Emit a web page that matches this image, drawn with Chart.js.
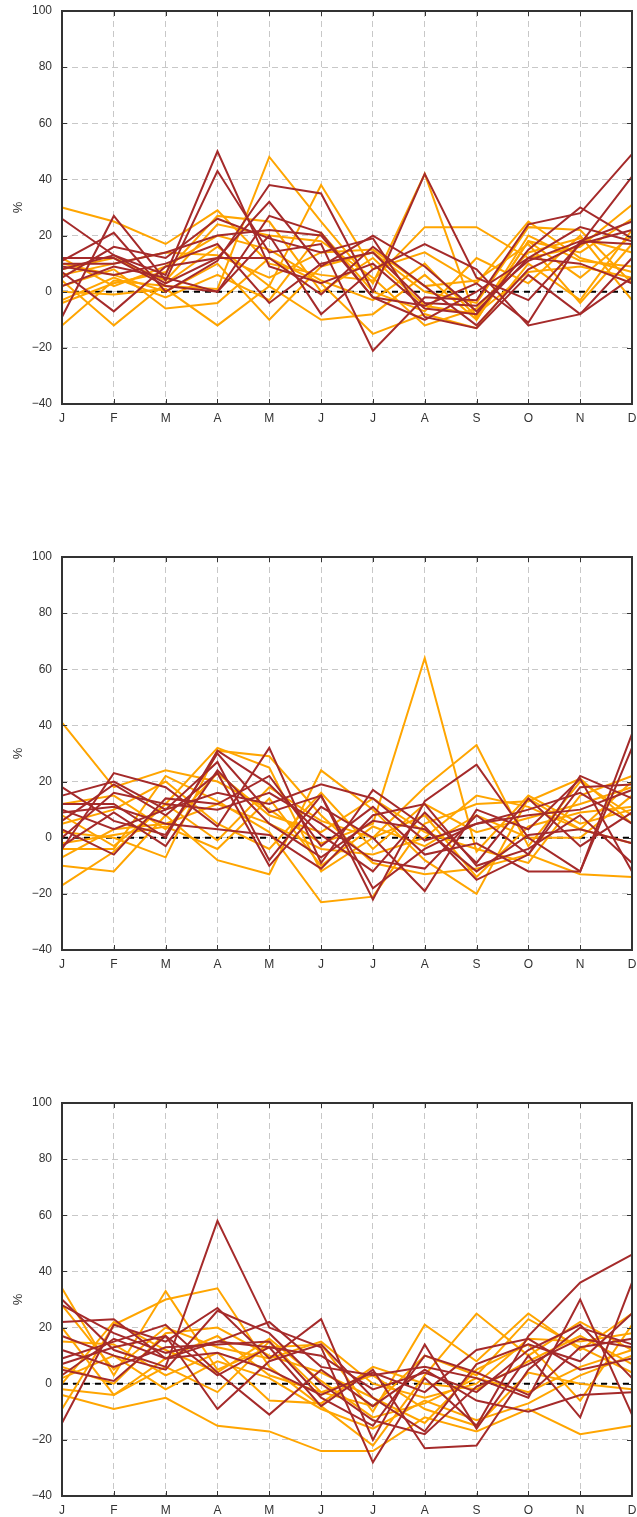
<!DOCTYPE html>
<html>
<head>
<meta charset="utf-8">
<script src="https://cdn.jsdelivr.net/npm/chart.js@4/dist/chart.umd.min.js"></script>
<style>
  html, body { margin: 0; padding: 0; background: #fff; }
  .panel { position: absolute; left: 0; width: 637px; height: 424px; }
  canvas { display: block; }
</style>
</head>
<body>
<div class="panel" style="top:0px"><canvas id="c1" width="637" height="424"></canvas></div>
<div class="panel" style="top:546px"><canvas id="c2" width="637" height="424"></canvas></div>
<div class="panel" style="top:1092px"><canvas id="c3" width="637" height="424"></canvas></div>
<script>
const months = ['J','F','M','A','M','J','J','A','S','O','N','D'];
const yTicks = [-40, -20, 0, 20, 40, 60, 80, 100];
const zeroLine = [0,0,0,0,0,0,0,0,0,0,0,0];

// Panel 1
const p1Orange = [
  [30, 25, 17, 29, 10, 6, 4, 23, 23, 12, 16, 31],
  [-12, 4, 2, 1, 48, 25, 3, 42, -10, 18, 5, 20],
  [4, -12, 3, 16, 2, 38, 8, 14, 3, 25, 12, 7],
  [8, 12, 4, 24, 20, 18, 5, -12, -6, 14, 19, 14],
  [2, 8, -6, -4, 12, 3, -15, -8, -13, 10, -3, 22],
  [10, 6, 0, 10, -10, 9, 14, 0, -4, 23, 22, 3],
  [-4, 3, 7, 27, 25, 0, 12, -5, -8, 7, 9, 5],
  [6, 10, 14, 13, 5, 14, 15, 2, 4, 17, -4, 17],
  [0, -1, 1, -12, 2, -10, -8, 6, -10, 18, 14, 26],
  [12, 2, 9, 20, 15, 4, -3, 10, -9, 20, 11, 9],
  [-3, 5, -2, 6, -3, 21, 0, -7, 12, 3, 20, -3]
];
const p1Red = [
  [26, 13, 6, 50, 9, 3, 10, -6, -8, 15, 30, 19],
  [-9, 27, 4, 43, 14, 17, -21, -2, -3, 24, 28, 49],
  [11, 21, 0, 11, 38, 35, 0, 42, 5, -3, 17, 41],
  [7, -7, 9, 12, 32, 9, 20, 9, -7, 12, 23, 18],
  [10, 10, 14, 20, 22, 20, -2, -5, 3, -11, 18, 25],
  [5, 16, 12, 26, 19, 14, 19, -9, -13, 6, -8, 12],
  [12, 12, 2, 0, 20, -8, 8, 17, 8, -12, -8, 5],
  [9, 6, 10, 17, -4, 10, 14, -4, -5, 11, 18, 17],
  [2, 9, 5, 0, 27, 21, -2, -10, 0, 12, 10, 3],
  [8, 13, 3, 12, 12, -1, 16, 2, -12, 8, 17, 22]
];

// Panel 2
const p2Orange = [
  [41, 18, 24, 20, 10, -2, 5, 64, -5, 15, 5, 10],
  [-17, -5, 12, 32, 25, -12, 0, 18, 33, -3, 20, 8],
  [-10, -12, 8, -8, -13, 24, 10, -8, -20, 14, 3, 20],
  [-4, -4, 22, 13, 2, -23, -21, 5, 12, 13, 21, 5],
  [2, 0, -7, 31, 29, 8, -9, -13, -11, -6, -13, -14],
  [5, 10, 20, 5, -4, 16, -4, 12, 2, 7, 12, 18],
  [-2, 1, 4, -4, 14, -10, 4, -3, 8, 0, 0, 15],
  [12, 15, 3, 23, 8, 2, 14, 2, -4, -9, 15, 22],
  [-7, 3, 5, 12, 5, -4, -6, 0, 15, 11, 3, -2],
  [8, -3, 12, -1, 18, 6, 0, 8, -14, 4, 9, 11]
];
const p2Red = [
  [18, 6, 1, 30, 9, 15, -22, 13, 26, 0, -12, 37],
  [-4, 23, 18, 4, 32, -9, 17, 4, -15, -6, 22, 14],
  [6, 19, 8, 23, -10, 11, 0, -19, 10, 3, 21, -12],
  [12, 12, 0, 31, 19, 1, -12, 9, -9, 14, -3, 9],
  [3, -6, 14, 12, 22, -3, 11, -6, -2, -12, -12, 32],
  [15, 20, 10, 27, -8, 15, -18, -4, 5, 8, 10, 17],
  [9, 11, 5, 3, 1, -11, 8, 12, -10, -4, 8, -9],
  [0, 16, 12, 10, 16, 5, -8, -11, 8, -6, 18, 19],
  [-3, 9, -3, 24, 5, -7, 6, 3, -12, 1, 3, -2],
  [10, 3, 10, 16, 12, 19, 14, -1, 5, 10, 16, 5]
];

// Panel 3
const p3Orange = [
  [34, 3, 33, 5, 13, 14, -10, 21, 8, 25, 12, 25],
  [-9, 21, 30, 34, 6, -8, -22, 3, 25, 10, 22, 12],
  [-4, -9, -5, -15, -17, -24, -24, -12, -17, -9, -18, -15],
  [28, 5, 20, 13, 9, 15, 0, -5, 0, 16, 15, 18],
  [2, 10, -2, 8, 2, -9, -16, -6, -13, -7, 3, 10],
  [-2, -4, 6, -3, 15, -3, -8, 10, 3, 23, 13, 4],
  [6, 0, 18, 20, 10, 4, -5, -14, 5, 14, -6, 21],
  [15, 14, 3, 11, -6, -7, 6, 0, -2, 8, 17, 7],
  [0, 22, 12, 4, 16, 1, -12, -7, 2, -3, 6, 12],
  [20, -4, 9, 17, 3, -3, 3, -9, -15, 4, 0, -2]
];
const p3Red = [
  [30, 12, 6, 58, 20, 13, -28, 2, -15, 17, 36, 46],
  [-14, 21, 15, 27, 9, 23, -20, 14, -16, 10, -12, 36],
  [28, 18, 11, 15, 13, -8, 5, -23, -22, 5, 20, 14],
  [22, 23, 9, 15, 22, 6, 3, 6, 2, -5, 30, -11],
  [5, 1, 17, -9, 8, 14, -5, -17, 7, 14, 8, 25],
  [17, 10, 5, 26, 18, 0, -13, -18, -1, 7, 16, 13],
  [9, 15, 21, 4, -11, 5, -8, 5, -6, -10, -4, -3],
  [12, 6, 13, 14, 15, -5, -15, 10, 4, -4, 13, 16],
  [3, 16, 9, 11, 5, -4, 4, -3, 12, 16, 5, 9],
  [7, 13, 17, 3, 13, 10, -2, 4, -3, 12, 21, 2]
];

const ORANGE = '#ffa500';
const RED = '#a52a2a';
const FONT = "'Liberation Sans', Arial, sans-serif";

const framePlugin = {
  id: 'frame',
  afterDraw(chart) {
    const {ctx, chartArea: a, scales} = chart;
    ctx.save();
    ctx.strokeStyle = '#333';
    ctx.lineWidth = 1;
    const tl = 5;
    ctx.beginPath();
    scales.y.ticks.forEach((t, i) => {
      const y = Math.round(scales.y.getPixelForTick(i)) + 0.5;
      ctx.moveTo(a.left, y); ctx.lineTo(a.left + tl, y);
      ctx.moveTo(a.right, y); ctx.lineTo(a.right - tl, y);
    });
    scales.x.ticks.forEach((t, i) => {
      const x = Math.round(scales.x.getPixelForTick(i)) + 0.5;
      ctx.moveTo(x, a.bottom); ctx.lineTo(x, a.bottom - tl);
      ctx.moveTo(x, a.top); ctx.lineTo(x, a.top + tl);
    });
    ctx.stroke();
    ctx.lineWidth = 2;
    ctx.strokeRect(a.left, a.top, a.right - a.left, a.bottom - a.top);
    ctx.restore();
  }
};

function makeChart(id, orange, red) {
  const datasets = [];
  red.forEach((d, i) => datasets.push({
    data: d, borderColor: RED, borderWidth: 2, pointRadius: 0, tension: 0, fill: false, order: 0
  }));
  orange.forEach((d, i) => datasets.push({
    data: d, borderColor: ORANGE, borderWidth: 2, pointRadius: 0, tension: 0, fill: false, order: 1
  }));
  datasets.push({
    data: zeroLine, borderColor: '#000', borderWidth: 2, borderDash: [6, 5],
    pointRadius: 0, tension: 0, fill: false, order: 2
  });
  return new Chart(document.getElementById(id), {
    type: 'line',
    data: { labels: months, datasets },
    options: {
      responsive: false,
      animation: false,
      events: [],
      layout: { padding: { top: 11, right: 5, left: 0, bottom: 0 } },
      plugins: { legend: { display: false }, tooltip: { enabled: false } },
      scales: {
        x: {
          grid: { color: '#c8c8c8', lineWidth: 1, drawTicks: false },
          border: { display: false, dash: [6, 4] },
          ticks: { color: '#333', font: { family: FONT, size: 12 }, padding: 7, maxRotation: 0, autoSkip: false },
          afterFit(s) { s.height = 20; s.paddingLeft = 0; s.paddingRight = 0; }
        },
        y: {
          min: -40, max: 100,
          afterBuildTicks(s) { s.ticks = yTicks.map(v => ({ value: v })); },
          grid: { color: '#c8c8c8', lineWidth: 1, drawTicks: false },
          border: { display: false, dash: [6, 4] },
          ticks: {
            color: '#333', font: { family: FONT, size: 12 }, padding: 10,
            callback: v => String(v).replace('-', '\u2212')
          },
          title: { display: true, text: '%', color: '#333', font: { family: FONT, size: 13 }, padding: { top: 11, bottom: 0 } },
          afterFit(s) { s.width = 62; s.paddingTop = 0; s.paddingBottom = 0; }
        }
      }
    },
    plugins: [framePlugin]
  });
}

makeChart('c1', p1Orange, p1Red);
makeChart('c2', p2Orange, p2Red);
makeChart('c3', p3Orange, p3Red);
</script>
</body>
</html>
